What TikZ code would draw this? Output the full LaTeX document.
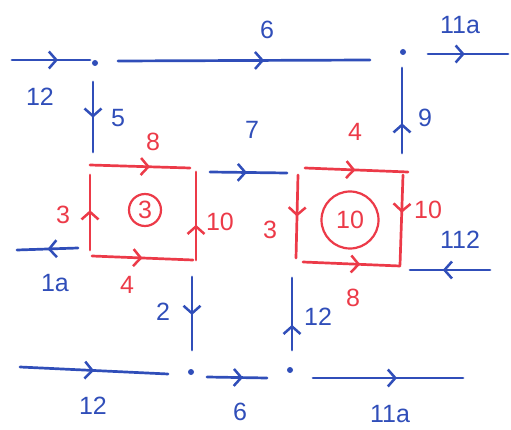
\documentclass[tikz,border=0pt]{standalone}
\usepackage{fontspec}
\setmainfont{Liberation Sans}
\usetikzlibrary{arrows.meta,decorations.markings}
\definecolor{myblue}{RGB}{48,78,185}
\definecolor{myred}{RGB}{236,58,72}
\tikzset{
  seg/.style={line width=2.7pt, line cap=round},
  bl/.style={seg, draw=myblue},
  rd/.style={seg, draw=myred},
  midarr/.style={postaction={decorate}, decoration={markings,
     mark=at position #1 with {\arrow{Straight Barb[length=7.5pt,width=17pt,line width=2.5pt]}}}},
  lab/.style={font=\fontsize{25}{25}\selectfont, inner sep=0pt},
  bllab/.style={lab, text=myblue},
  rdlab/.style={lab, text=myred},
  junction/.style={circle, fill=myblue, inner sep=0pt, minimum size=6pt},
}
\begin{document}
\begin{tikzpicture}[x=1pt,y=-1pt]
\useasboundingbox (0,0) rectangle (511,430);
% coordinates
\coordinate (tl1) at (12,60);  \coordinate (tl2) at (90,60);
\coordinate (t6a) at (118,61); \coordinate (t6b) at (370,60);
\coordinate (t11a) at (428,54); \coordinate (t11b) at (508,54);
\coordinate (v5a) at (93,82);  \coordinate (v5b) at (93,152);
\coordinate (v9a) at (402,153); \coordinate (v9b) at (402,68);
\coordinate (s7a) at (210,172); \coordinate (s7b) at (287,173);
\coordinate (s1a) at (78,248); \coordinate (s1b) at (17,250);
\coordinate (s112a) at (490,270); \coordinate (s112b) at (410,270);
\coordinate (v2a) at (192,277); \coordinate (v2b) at (192,350);
\coordinate (b12a) at (20,367); \coordinate (b12b) at (168,374);
\coordinate (b6a) at (207,377); \coordinate (b6b) at (267,378);
\coordinate (v12a) at (292,350); \coordinate (v12b) at (292,278);
\coordinate (b11a) at (313,378); \coordinate (b11b) at (463,378);
% left box
\coordinate (L1) at (90,165); \coordinate (L2) at (190,168);
\coordinate (L3) at (196,260); \coordinate (L4) at (196,172);
\coordinate (L5) at (92,256); \coordinate (L6) at (193,260);
\coordinate (L7) at (90,250); \coordinate (L8) at (90,175);
% right box
\coordinate (R1) at (305,168); \coordinate (R2) at (408,172);
\coordinate (R3) at (298,175); \coordinate (R4) at (296,258);
\coordinate (R5) at (403,175); \coordinate (R6) at (400,265);
\coordinate (R7) at (303,262); \coordinate (R8) at (400,266);
% junction dots
\node[junction] (d1) at (95,63) {};
\node[junction] (d2) at (403,52) {};
\node[junction] (d3) at (191,372) {};
\node[junction] (d4) at (290,370) {};
% blue lines
\draw[bl, midarr=0.59] (tl1) -- (tl2);
\draw[bl, midarr=0.58] (t6a) -- (t6b);
\draw[bl, midarr=0.46] (t11a) -- (t11b);
\draw[bl, midarr=0.51] (v5a) -- (v5b);
\draw[bl, midarr=0.35] (v9a) -- (v9b);
\draw[bl, midarr=0.48] (s7a) -- (s7b);
\draw[bl, midarr=0.5] (s1a) -- (s1b);
\draw[bl, midarr=0.59] (s112a) -- (s112b);
\draw[bl, midarr=0.52] (v2a) -- (v2b);
\draw[bl, midarr=0.5] (b12a) -- (b12b);
\draw[bl, midarr=0.6] (b6a) -- (b6b);
\draw[bl, midarr=0.35] (v12a) -- (v12b);
\draw[bl, midarr=0.56] (b11a) -- (b11b);
% red boxes
\draw[rd, midarr=0.6] (L1) -- (L2);
\draw[rd, midarr=0.4] (L3) -- (L4);
\draw[rd, midarr=0.5] (L5) -- (L6);
\draw[rd, midarr=0.53] (L7) -- (L8);
\draw[rd, midarr=0.49] (R1) -- (R2);
\draw[rd, midarr=0.5] (R3) -- (R4);
\draw[rd, midarr=0.42] (R5) -- (R6);
\draw[rd, midarr=0.59] (R7) -- (R8);
% circled labels
\node[rdlab, draw=myred, line width=2.2pt, circle, minimum size=32pt] (c3) at (145,210) {3};
\node[rdlab, draw=myred, line width=2.2pt, circle, minimum size=57pt] (c10) at (350,220) {10};
% blue labels
\node[bllab] (l12a) at (40,97) {12};
\node[bllab] (l6a) at (267,30) {6};
\node[bllab] (l11a) at (460,25) {11a};
\node[bllab] (l5) at (118,118) {5};
\node[bllab] (l9) at (425,118) {9};
\node[bllab] (l7) at (252,130) {7};
\node[bllab] (l1a) at (55,283) {1a};
\node[bllab] (l112) at (460,240) {112};
\node[bllab] (l2) at (163,312) {2};
\node[bllab] (l12b) at (93,406) {12};
\node[bllab] (l6b) at (240,412) {6};
\node[bllab] (l12c) at (318,317) {12};
\node[bllab] (l11b) at (390,414) {11a};
% red labels
\node[rdlab] (r8a) at (153,142) {8};
\node[rdlab] (r3a) at (63,215) {3};
\node[rdlab] (r4a) at (127,285) {4};
\node[rdlab] (r10a) at (220,222) {10};
\node[rdlab] (r4b) at (355,132) {4};
\node[rdlab] (r3b) at (270,230) {3};
\node[rdlab] (r10b) at (428,210) {10};
\node[rdlab] (r8b) at (353,298) {8};
\end{tikzpicture}
\end{document}
